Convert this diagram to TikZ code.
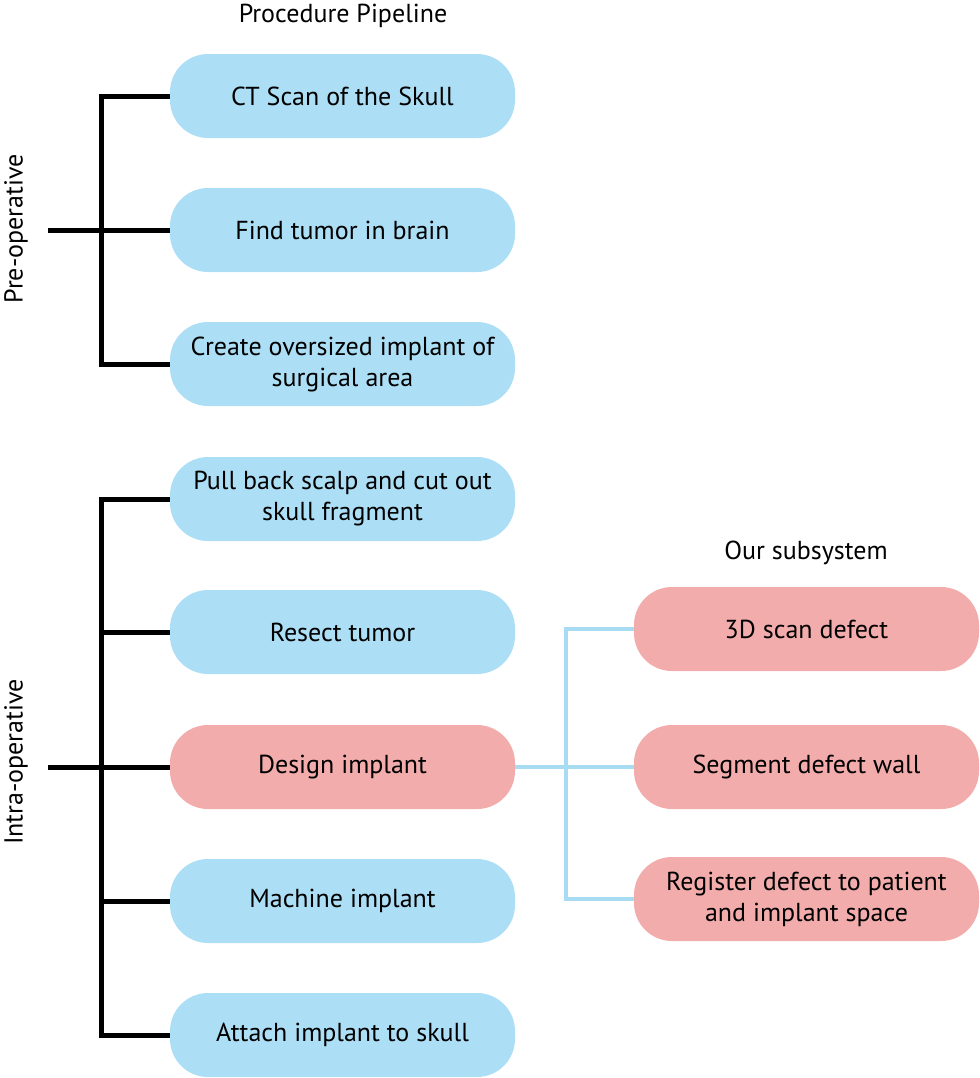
\documentclass[tikz,border=0pt]{standalone}
\usepackage{fontspec}
\setmainfont{PT Sans}
\definecolor{boxblue}{RGB}{172,223,245}
\definecolor{boxred}{RGB}{243,172,172}
\definecolor{lineblue}{RGB}{168,220,242}
\begin{document}
\begin{tikzpicture}[x=0.5pt,y=-0.5pt,
  stage/.style={rectangle, rounded corners=19pt, minimum width=172.5pt, minimum height=42pt,
    inner sep=0pt, align=center, font=\fontsize{13}{15.5}\selectfont, text=black},
  bluebox/.style={stage, fill=boxblue},
  redbox/.style={stage, fill=boxred},
  lbl/.style={font=\fontsize{13}{15.5}\selectfont, text=black, inner sep=0pt},
  bracket/.style={line width=2.5pt, black, line join=miter},
  subline/.style={line width=2.4pt, lineblue, line join=miter}
]
\useasboundingbox (0,0) rectangle (980,1078);

\node[lbl] (title) at (343,16) {Procedure Pipeline};
\node[lbl] (sub) at (806,553) {Our subsystem};
\node[lbl, rotate=90] (pre) at (16,229) {Pre-operative};
\node[lbl, rotate=90] (intra) at (16,762) {Intra-operative};

\node[bluebox] (ct) at (342.5,96) {CT Scan of the Skull};
\node[bluebox] (find) at (342.5,230) {Find tumor in brain};
\node[bluebox] (create) at (342.5,364) {Create oversized implant of\\surgical area};
\node[bluebox] (pull) at (342.5,499) {Pull back scalp and cut out\\skull fragment};
\node[bluebox] (resect) at (342.5,632) {Resect tumor};
\node[redbox] (design) at (342.5,767) {Design implant};
\node[bluebox] (machine) at (342.5,901) {Machine implant};
\node[bluebox] (attach) at (342.5,1035) {Attach implant to skull};

\node[redbox] (scan) at (806.5,629) {3D scan defect};
\node[redbox] (segment) at (806.5,767) {Segment defect wall};
\node[redbox] (register) at (806.5,899) {Register defect to patient\\and implant space};

% pre-operative bracket
\coordinate (preBar) at (101,230);
\coordinate (preStub) at (48,230);
\draw[bracket] (ct.west) -| (preBar) |- (create.west);
\draw[bracket] (find.west) -- (preStub);

% intra-operative bracket
\coordinate (intraBar) at (101,767);
\coordinate (intraStub) at (48,767);
\draw[bracket] (pull.west) -| (intraBar) |- (attach.west);
\draw[bracket] (resect.west) -- (resect.west -| intraBar);
\draw[bracket] (design.west) -- (intraStub);
\draw[bracket] (machine.west) -- (machine.west -| intraBar);

% subsystem connectors
\coordinate (subBar) at (566,767);
\draw[subline] (design.east) -- (segment.west);
\draw[subline] (scan.west) -| (subBar) |- (register.west);
\end{tikzpicture}
\end{document}
